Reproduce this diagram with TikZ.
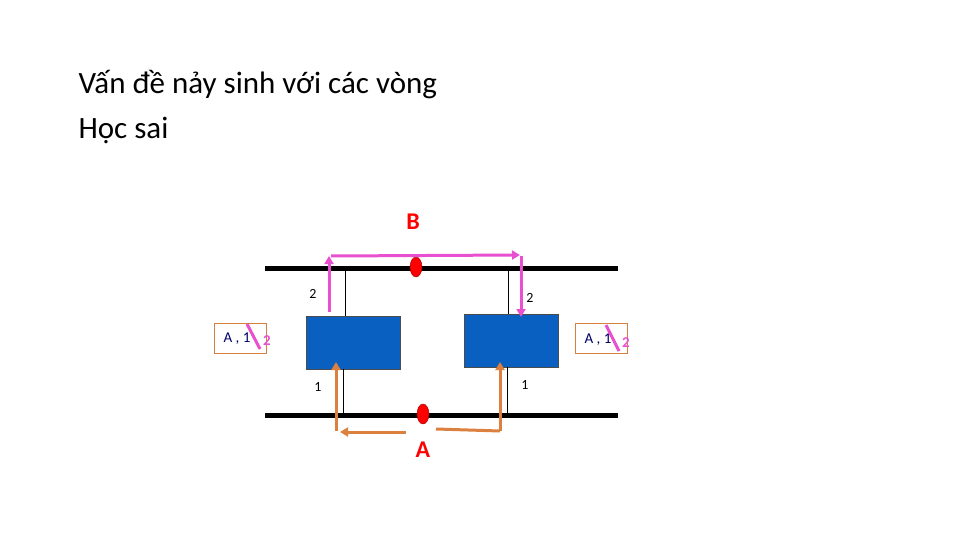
\documentclass[tikz,border=0pt]{standalone}
\usepackage{fontspec}
\setmainfont{Carlito}
\begin{document}
\begin{tikzpicture}[x=1pt,y=-1pt,
  rail/.style={line width=5pt,black},
  box/.style={draw=black!70,fill=blue!60!cyan!70!black,fill=blueb,minimum width=94pt,minimum height=53pt,inner sep=0pt},
  dot/.style={ellipse,draw=red!60!black,fill=red,minimum width=12pt,minimum height=20pt,inner sep=0pt},
  pk/.style={draw=pinkc,line width=3pt,-{Triangle[length=8pt,width=9pt]}},
  og/.style={draw=orangec,line width=3pt,-{Triangle[length=8pt,width=9pt]}},
  lbl/.style={font=\fontsize{14}{14}\selectfont},
  tab/.style={draw=orangec!80!brown,thin,minimum width=52pt,minimum height=30pt,inner sep=0pt}]
\usetikzlibrary{arrows.meta,shapes.geometric}
\definecolor{blueb}{RGB}{10,96,192}
\definecolor{pinkc}{RGB}{232,80,208}
\definecolor{orangec}{RGB}{220,128,64}
\path[use as bounding box] (0,0) rectangle (960,540);
\node[anchor=base west,font=\fontsize{31}{31}\selectfont\addfontfeatures{}] (t1) at (75,94) {Vấn đề nảy sinh với các vòng};
\node[anchor=base west,font=\fontsize{31}{31}\selectfont] (t2) at (75,139) {Học sai};
\coordinate (tl) at (265,268); \coordinate (tr) at (618,268);
\coordinate (bl) at (265,415); \coordinate (br) at (618,415);
\draw[rail] (tl) -- (tr);
\draw[rail] (bl) -- (br);
\node[box] (L) at (353,342.5) {};
\node[box] (R) at (511,340.5) {};
\coordinate (lt) at (345,268); \coordinate (lb) at (343,415);
\coordinate (rt) at (508,268); \coordinate (rb) at (507,415);
\draw[thin] (lt) -- (345,316);
\draw[thin] (lb) -- (343,369);
\draw[thin] (rt) -- (508,314);
\draw[thin] (rb) -- (507,367);
\node[dot] (d1) at (416,267) {};
\node[dot] (d2) at (423,414) {};
\node[text=red,font=\bfseries\fontsize{24}{24}\selectfont] (B) at (413,222) {B};
\node[text=red,font=\bfseries\fontsize{24}{24}\selectfont] (A) at (423,450) {A};
% pink
\coordinate (p0) at (329,312); \coordinate (p1) at (329,256);
\coordinate (p2) at (521,256); \coordinate (p3) at (521,317);
\draw[pk] (p0) -- (p1);
\draw[pk] (331,256) -- (520,255);
\draw[pk] (p2) -- (p3);
% orange
\coordinate (o0) at (336,431); \coordinate (o1) at (336,362);
\draw[og] (o0) -- (o1);
\draw[og] (406,432) -- (340,432);
\coordinate (o2) at (436,429); \coordinate (o3) at (500,431); \coordinate (o4) at (500,362);
\draw[draw=orangec,line width=3pt] (o2) -- (o3);
\draw[og] (o3) -- (o4);
\node[lbl] (n1) at (313,294) {2};
\node[lbl] (n2) at (530,298) {2};
\node[lbl] (n3) at (318,387) {1};
\node[lbl] (n4) at (525,385) {1};
\node[tab] (LT) at (240,338) {};
\node[tab] (RT) at (601,338.5) {};
\node[anchor=west,text=blue!40!black,font=\fontsize{15}{15}\selectfont] (LTt) at (220,339) {A , 1};
\node[anchor=west,text=blue!40!black,font=\fontsize{15}{15}\selectfont] (RTt) at (581,340) {A , 1};
\draw[pinkc,line width=3pt] (247,324) -- (260,349);
\node[text=pinkc,font=\bfseries\fontsize{15}{15}\selectfont] (l2) at (267,341) {2};
\draw[pinkc,line width=3pt] (606,325) -- (619,351);
\node[text=pinkc,font=\bfseries\fontsize{15}{15}\selectfont] (r2) at (626,343) {2};
\end{tikzpicture}
\end{document}
